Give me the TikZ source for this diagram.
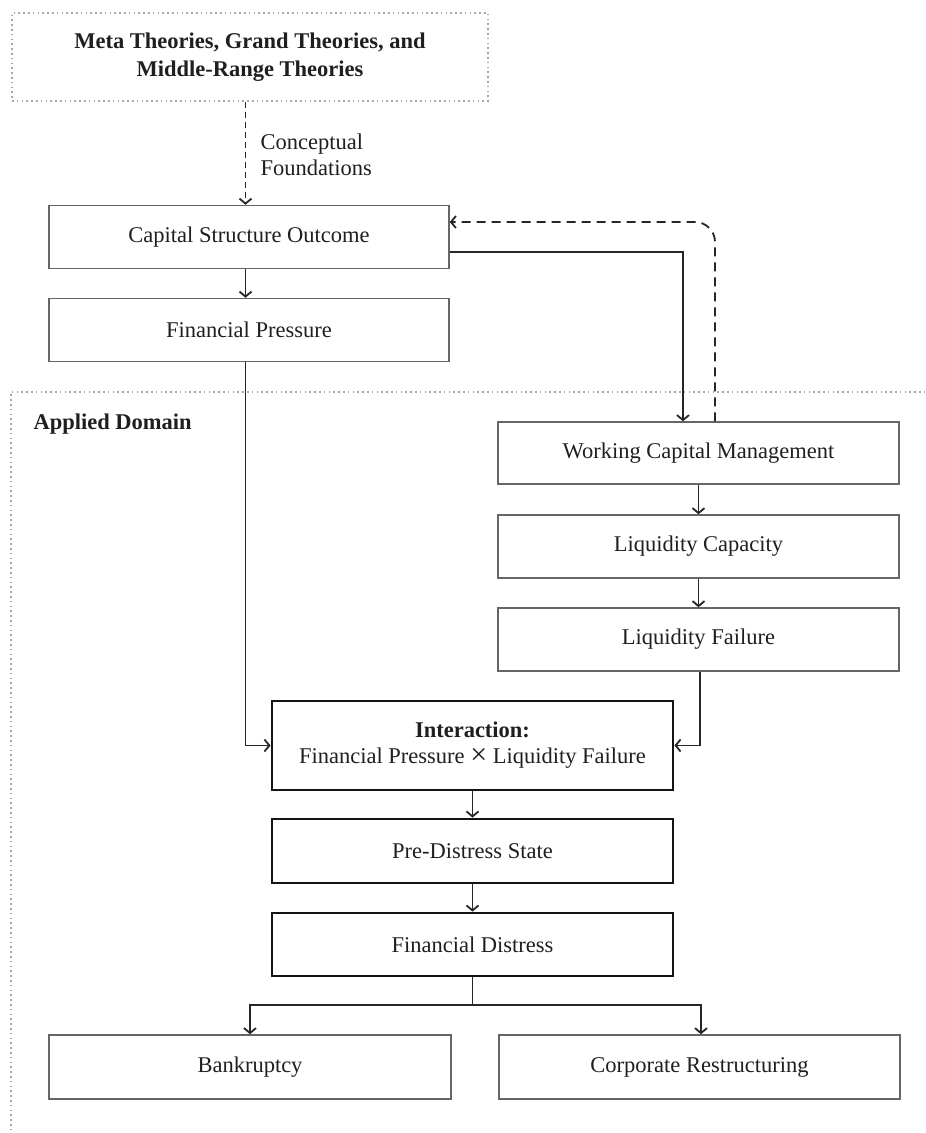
\documentclass[tikz,border=0pt]{standalone}
\usepackage{fontspec}
\setmainfont{Liberation Serif}
\usetikzlibrary{calc,arrows.meta}
\begin{document}
\begin{tikzpicture}[x=1pt,y=-1pt,
  txt/.style={font=\fontsize{22.5}{26}\selectfont,text=black!88},
  box/.style={txt,draw=black!60,line width=1.5pt,minimum width=400pt,minimum height=63pt,inner sep=0pt,align=center},
  thickbox/.style={box,draw=black!92,line width=2.8pt},
  dotline/.style={draw=black!35,line width=1.6pt,dash pattern=on 1.6pt off 3.2pt},
  arr/.style={draw=black!85,line width=1.8pt,-{Straight Barb[length=5pt,width=12pt]}},
  darr/.style={arr,dash pattern=on 9pt off 6pt},
  carr/.style={arr,dash pattern=on 6pt off 4pt}
]
\useasboundingbox (0,0) rectangle (926,1133);
% applied domain region
\draw[dotline] (11,1140) |- (935,392);
\node[txt,font=\fontsize{22.5}{26}\selectfont\bfseries,anchor=west] (applied) at (30,424) {Applied Domain};
% top theory box
\node[txt,dotline,text=black!88,minimum width=476pt,minimum height=88pt,align=center,font=\fontsize{22.5}{28}\selectfont\bfseries] (meta) at (250,57) {Meta Theories, Grand Theories, and\\Middle-Range Theories};
% boxes
\node[box] (cap) at (249,237) {Capital Structure Outcome};
\node[box] (fp) at (249,330) {Financial Pressure};
\node[box,minimum width=401pt,minimum height=62pt] (wcm) at (698.5,453) {Working Capital Management};
\node[box,minimum width=401pt] (lc) at (698.5,546.5) {Liquidity Capacity};
\node[box,minimum width=401pt] (lf) at (698.5,639.5) {Liquidity Failure};
\node[thickbox,minimum width=401pt,minimum height=89pt] (inter) at (472.5,745.5) {\textbf{Interaction:}\\Financial Pressure {\fontsize{30}{26}\selectfont\raisebox{-1pt}{×}} Liquidity Failure};
\node[thickbox,minimum width=401pt,minimum height=64pt] (pre) at (472.5,851) {Pre-Distress State};
\node[thickbox,minimum width=401pt] (fd) at (472.5,944.5) {Financial Distress};
\node[box,minimum width=402pt,minimum height=64pt] (bank) at (250,1067) {Bankruptcy};
\node[box,minimum width=401pt,minimum height=64pt] (corp) at (699.5,1067) {Corporate Restructuring};
% coordinates
\coordinate (xa) at (245.5,0);
\coordinate (sp) at (472.5,1005);
% connectors
\draw[carr] (meta.south -| xa) -- (cap.north -| xa);
\node[txt,anchor=west,align=left] (cf) at (257,155) {Conceptual\\Foundations};
\draw[arr] (cap.south -| xa) -- (fp.north -| xa);
\draw[arr] ($(cap.east)+(0,15)$) -| ($(wcm.north)+(-15.5,0)$);
\draw[darr,rounded corners=20pt] ($(wcm.north)+(16.5,0)$) |- ($(cap.east)+(0,-15)$);
\draw[arr] (wcm) -- (lc);
\draw[arr] (lc) -- (lf);
\draw[arr] (fp.south -| xa) |- (inter.west);
\draw[arr] ($(lf.south)+(1.5,0)$) |- (inter.east);
\draw[arr] (inter) -- (pre);
\draw[arr] (pre) -- (fd);
\draw[draw=black!85,line width=1.8pt] (fd.south) -- (sp);
\draw[arr] (sp) -| (bank.north);
\draw[arr] (sp) -| ($(corp.north)+(1.5,0)$);
\end{tikzpicture}
\end{document}
